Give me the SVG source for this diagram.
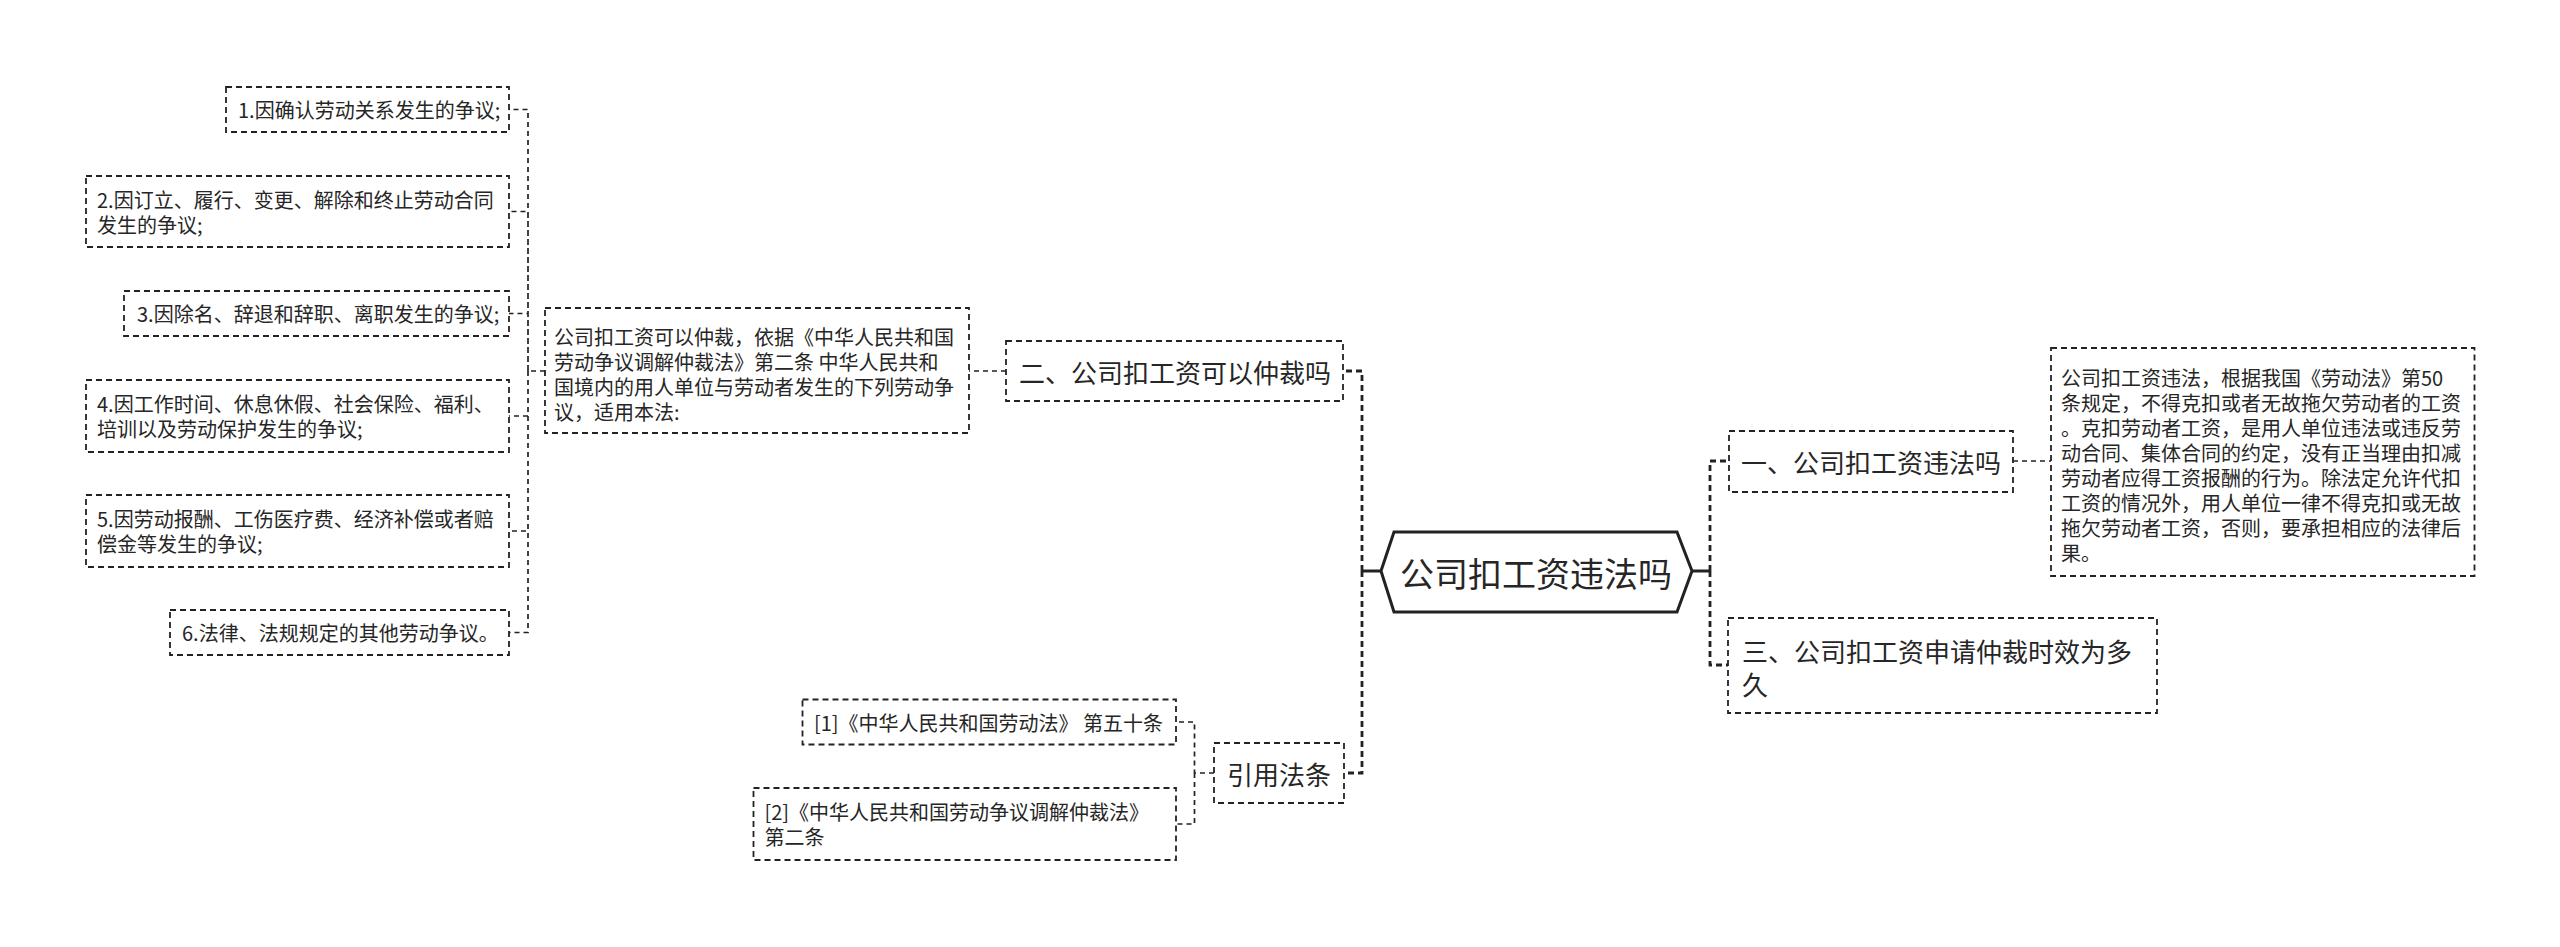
<svg xmlns="http://www.w3.org/2000/svg" width="2560" height="947" viewBox="0 0 2560 947">
<style>
text{font-family:"Noto Sans CJK SC","Microsoft YaHei",sans-serif;fill:#262626;dominant-baseline:central}
.box{fill:#fff;stroke:#222;stroke-width:1.8;stroke-dasharray:6 4}
.t20{font-size:20px}
.t26{font-size:26px}
.t34{font-size:34px}
.main{fill:none;stroke:#222;stroke-width:2.8;stroke-dasharray:6 4}
.solid{fill:none;stroke:#222;stroke-width:2.8}
.sub{fill:none;stroke:#222;stroke-width:1.7;stroke-dasharray:5 4}
</style>
<rect width="2560" height="947" fill="#fff"/>
<g id="connectors">
  <path class="solid" d="M1381 571H1362M1692 571H1710"/>
  <path class="main" d="M1362 571V371H1343M1362 571V773H1344"/>
  <path class="main" d="M1710 571V461H1729M1710 571V665H1728"/>
  <path class="sub" d="M1006 371H969"/>
  <path class="sub" d="M545 371H528V109.5H509M528 371V211.5H509M528 371V313.5H509M528 371V416H509M528 371V531H509M528 371V632.5H509"/>
  <path class="sub" d="M2013 461H2051"/>
  <path class="sub" d="M1214 773H1194.5V722H1176M1194.5 773V824H1176"/>
</g>
<g id="root">
  <polygon points="1381,571 1394,532 1677,532 1692,571 1677,612 1394,612" fill="#fff" stroke="#222" stroke-width="3"/>
  <text class="t34" x="1536" y="572" text-anchor="middle">公司扣工资违法吗</text>
</g>
<g id="n2">
  <rect class="box" x="1006" y="341" width="337" height="60"/>
  <text class="t26" x="1175" y="371" text-anchor="middle">二、公司扣工资可以仲裁吗</text>
</g>
<g id="n2desc">
  <rect class="box" x="545" y="308" width="424" height="125"/>
  <text class="t20" x="554" y="336">公司扣工资可以仲裁，依据《中华人民共和国</text>
  <text class="t20" x="554" y="361">劳动争议调解仲裁法》第二条 中华人民共和</text>
  <text class="t20" x="554" y="386">国境内的用人单位与劳动者发生的下列劳动争</text>
  <text class="t20" x="554" y="411">议，适用本法:</text>
</g>
<g id="leaf1">
  <rect class="box" x="226" y="87" width="283" height="45"/>
  <text class="t20" x="238" y="109.5">1.因确认劳动关系发生的争议;</text>
</g>
<g id="leaf2">
  <rect class="box" x="86" y="176" width="423" height="71"/>
  <text class="t20" x="97" y="199">2.因订立、履行、变更、解除和终止劳动合同</text>
  <text class="t20" x="97" y="224">发生的争议;</text>
</g>
<g id="leaf3">
  <rect class="box" x="124" y="291" width="385" height="45"/>
  <text class="t20" x="137" y="313.5">3.因除名、辞退和辞职、离职发生的争议;</text>
</g>
<g id="leaf4">
  <rect class="box" x="86" y="380" width="423" height="72"/>
  <text class="t20" x="97" y="403.5">4.因工作时间、休息休假、社会保险、福利、</text>
  <text class="t20" x="97" y="428.5">培训以及劳动保护发生的争议;</text>
</g>
<g id="leaf5">
  <rect class="box" x="86" y="495" width="423" height="72"/>
  <text class="t20" x="97" y="518.5">5.因劳动报酬、工伤医疗费、经济补偿或者赔</text>
  <text class="t20" x="97" y="543.5">偿金等发生的争议;</text>
</g>
<g id="leaf6">
  <rect class="box" x="170" y="610" width="339" height="45"/>
  <text class="t20" x="182" y="632.5">6.法律、法规规定的其他劳动争议。</text>
</g>
<g id="ref">
  <rect class="box" x="1214" y="743" width="130" height="60"/>
  <text class="t26" x="1279" y="773" text-anchor="middle">引用法条</text>
</g>
<g id="ref1">
  <rect class="box" x="802.5" y="699.5" width="373.5" height="45"/>
  <text class="t20" x="814" y="722">[1]《中华人民共和国劳动法》 第五十条</text>
</g>
<g id="ref2">
  <rect class="box" x="753.5" y="788" width="422.5" height="72"/>
  <text class="t20" x="764.5" y="811.5">[2]《中华人民共和国劳动争议调解仲裁法》</text>
  <text class="t20" x="764.5" y="836.5">第二条</text>
</g>
<g id="n1">
  <rect class="box" x="1729" y="431" width="284" height="61"/>
  <text class="t26" x="1871" y="461" text-anchor="middle">一、公司扣工资违法吗</text>
</g>
<g id="n1desc">
  <rect class="box" x="2051" y="348" width="423.5" height="228"/>
  <text class="t20" x="2061" y="377">公司扣工资违法，根据我国《劳动法》第50</text>
  <text class="t20" x="2061" y="402">条规定，不得克扣或者无故拖欠劳动者的工资</text>
  <text class="t20" x="2061" y="427">。克扣劳动者工资，是用人单位违法或违反劳</text>
  <text class="t20" x="2061" y="452">动合同、集体合同的约定，没有正当理由扣减</text>
  <text class="t20" x="2061" y="477">劳动者应得工资报酬的行为。除法定允许代扣</text>
  <text class="t20" x="2061" y="502">工资的情况外，用人单位一律不得克扣或无故</text>
  <text class="t20" x="2061" y="527">拖欠劳动者工资，否则，要承担相应的法律后</text>
  <text class="t20" x="2061" y="552">果。</text>
</g>
<g id="n3">
  <rect class="box" x="1728" y="618" width="429" height="95"/>
  <text class="t26" x="1742" y="650">三、公司扣工资申请仲裁时效为多</text>
  <text class="t26" x="1742" y="683">久</text>
</g>
</svg>
